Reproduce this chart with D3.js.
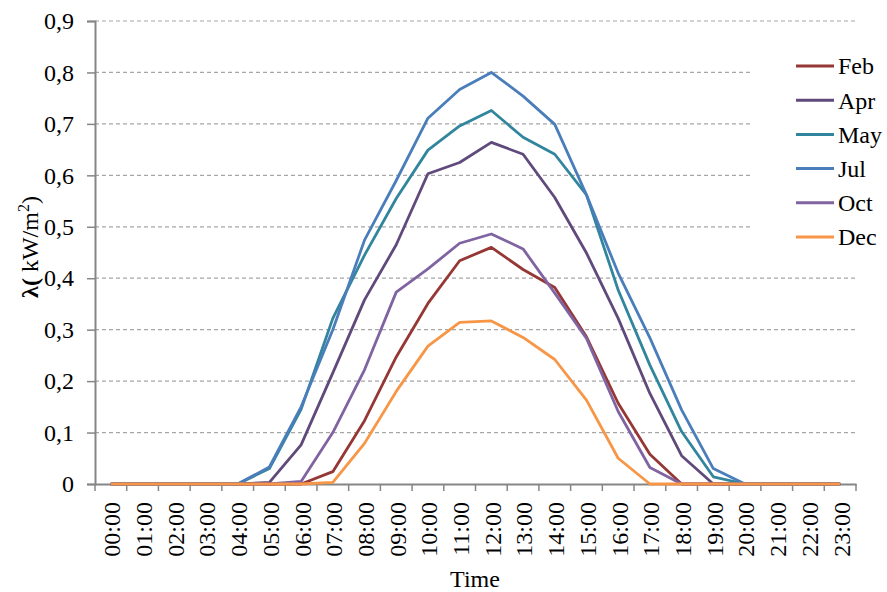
<!DOCTYPE html>
<html>
<head>
<meta charset="utf-8">
<script src="https://cdn.jsdelivr.net/npm/d3@7"></script>
<style>
  body { margin: 0; background: #fff; }
  text { font-family: "Liberation Serif", "Times New Roman", serif; fill: #000; }
</style>
</head>
<body>
<div id="the_chart"></div>
<script>
var hours = ["00:00", "01:00", "02:00", "03:00", "04:00", "05:00", "06:00", "07:00",
    "08:00", "09:00", "10:00", "11:00", "12:00", "13:00", "14:00", "15:00",
    "16:00", "17:00", "18:00", "19:00", "20:00", "21:00", "22:00", "23:00"];
var months = ["Feb", "Apr", "May", "Jul", "Oct", "Dec"];
var colors = ["#953735", "#604A7B", "#31859C", "#4A7EBB", "#8064A2", "#F79646"];
var yTicks = [0, 0.1, 0.2, 0.3, 0.4, 0.5, 0.6, 0.7, 0.8, 0.9];

var feb = [0, 0, 0, 0, 0, 0, 0, 0.024, 0.123, 0.247, 0.351, 0.434, 0.46, 0.417, 0.382, 0.286, 0.157, 0.058, 0, 0, 0, 0, 0, 0];
var apr = [0, 0, 0, 0, 0, 0.003, 0.076, 0.216, 0.358, 0.465, 0.603, 0.625, 0.664, 0.641, 0.557, 0.449, 0.322, 0.176, 0.055, 0, 0, 0, 0, 0];
var may = [0, 0, 0, 0, 0, 0.03, 0.145, 0.322, 0.445, 0.555, 0.649, 0.696, 0.726, 0.674, 0.641, 0.562, 0.377, 0.231, 0.102, 0.014, 0, 0, 0, 0];
var jul = [0, 0, 0, 0, 0, 0.033, 0.15, 0.30, 0.474, 0.59, 0.711, 0.767, 0.80, 0.754, 0.699, 0.562, 0.41, 0.284, 0.144, 0.03, 0, 0, 0, 0];
var oct = [0, 0, 0, 0, 0, 0, 0.005, 0.10, 0.222, 0.373, 0.418, 0.468, 0.486, 0.457, 0.371, 0.283, 0.141, 0.032, 0, 0, 0, 0, 0, 0];
var dec = [0, 0, 0, 0, 0, 0, 0, 0.003, 0.079, 0.18, 0.268, 0.314, 0.317, 0.285, 0.242, 0.163, 0.05, 0, 0, 0, 0, 0, 0, 0];
var series = [feb, apr, may, jul, oct, dec];

var w = 887, h = 592;
var margin = { top: 21, right: 31, bottom: 108, left: 95 };

var svg = d3.select("#the_chart").append("svg")
    .attr("width", w)
    .attr("height", h);

var xscale = d3.scaleBand()
    .domain(hours)
    .range([margin.left, w - margin.right]);
var yscale = d3.scaleLinear()
    .domain([0, 0.9])
    .range([h - margin.bottom, margin.top]);

// dashed grid lines
svg.append("g")
    .selectAll("line")
    .data(yTicks.slice(1))
    .enter().append("line")
    .attr("x1", margin.left)
    .attr("x2", w - margin.right)
    .attr("y1", d => yscale(d))
    .attr("y2", d => yscale(d))
    .attr("stroke", "#a6a6a6")
    .attr("stroke-width", 1.2)
    .attr("stroke-dasharray", "4,3");

// y axis
var yaxis = d3.axisLeft(yscale)
    .tickValues(yTicks)
    .tickSize(8)
    .tickPadding(13)
    .tickFormat(d => d === 0 ? "0" : d3.format(".1f")(d).replace(".", ","));
var gy = svg.append("g")
    .attr("transform", "translate(" + margin.left + ",0)")
    .call(yaxis);
gy.select(".domain").attr("stroke", "#868686").attr("stroke-width", 2);
gy.selectAll(".tick line").attr("stroke", "#868686").attr("stroke-width", 1.5);
gy.selectAll(".tick text").style("font-size", "24px");

// x axis, ticks on band edges
var xaxis = d3.axisBottom(xscale).tickSize(0);
var gx = svg.append("g")
    .attr("transform", "translate(0," + yscale(0) + ")")
    .call(xaxis);
gx.select(".domain").attr("stroke", "#868686").attr("stroke-width", 2);
gx.selectAll(".tick text")
    .style("font-size", "24px")
    .attr("text-anchor", "end")
    .attr("transform", "rotate(-90)")
    .attr("x", -18)
    .attr("y", 1)
    .attr("dy", "0.35em");
gx.selectAll(".edge")
    .data(hours.concat(["end"]))
    .enter().append("line")
    .attr("x1", (d, i) => margin.left + i * xscale.bandwidth())
    .attr("x2", (d, i) => margin.left + i * xscale.bandwidth())
    .attr("y1", 0)
    .attr("y2", 7)
    .attr("stroke", "#868686")
    .attr("stroke-width", 1.5);

// legend background hides the grid behind it
var legendX = 796, legendY = 66, legendStep = 34.2;
svg.append("rect")
    .attr("x", 752)
    .attr("y", 40)
    .attr("width", 125)
    .attr("height", 222)
    .attr("fill", "#fff");

// lines
var line = d3.line()
    .x((d, i) => xscale(hours[i]) + xscale.bandwidth() / 2)
    .y(d => yscale(d));
svg.append("g")
    .selectAll("path")
    .data(series)
    .enter().append("path")
    .attr("d", line)
    .attr("fill", "none")
    .attr("stroke", (d, i) => colors[i])
    .attr("stroke-width", 2.8)
    .attr("stroke-linejoin", "round");

// legend
var lg = svg.append("g")
    .selectAll("g")
    .data(months)
    .enter().append("g")
    .attr("transform", (d, i) => "translate(" + legendX + "," + (legendY + i * legendStep) + ")");
lg.append("line")
    .attr("x1", 0)
    .attr("x2", 38)
    .attr("stroke", (d, i) => colors[i])
    .attr("stroke-width", 3);
lg.append("text")
    .attr("x", 42)
    .attr("dy", "0.35em")
    .style("font-size", "24px")
    .text(d => d);

// axis titles
svg.append("text")
    .attr("x", 475)
    .attr("y", 587)
    .attr("text-anchor", "middle")
    .style("font-size", "24px")
    .text("Time");

var ylab = svg.append("text")
    .attr("transform", "translate(38,247) rotate(-90)")
    .attr("text-anchor", "middle")
    .style("font-size", "24px");
ylab.append("tspan").style("font-weight", "bold").text("λ(");
ylab.append("tspan").text(" kW/m");
ylab.append("tspan").attr("dy", "-9").style("font-size", "16px").text("2");
ylab.append("tspan").attr("dy", "9").text(")");
</script>
</body>
</html>
